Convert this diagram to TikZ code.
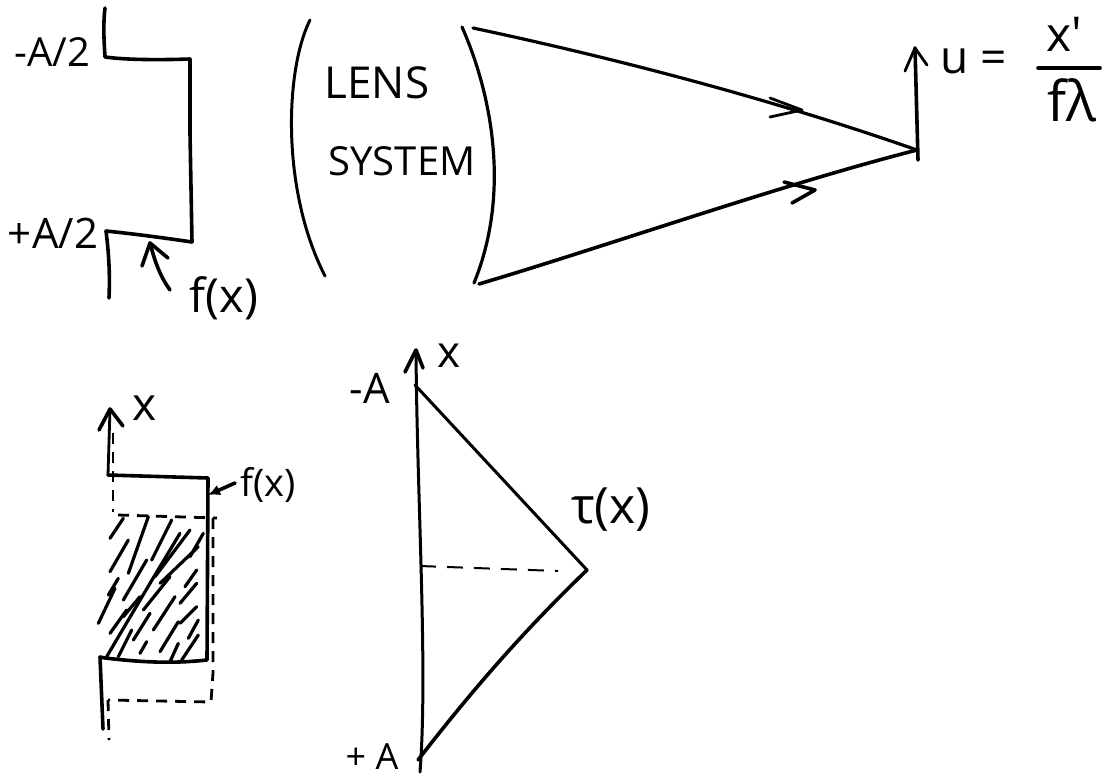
\documentclass[tikz,border=0pt]{standalone}
\usepackage{fontspec}
\setmainfont{Open Sans}
\usetikzlibrary{arrows.meta}
\tikzset{
  ink/.style={line width=3.6pt,line cap=round,line join=round,black},
  thin ink/.style={line width=2.8pt,line cap=round,line join=round,black},
  dash ink/.style={line width=2.8pt,line cap=butt,black,dash pattern=on 11pt off 8pt},
  hatch/.style={line width=3.2pt,line cap=round,black},
  lbl/.style={inner sep=0pt,outer sep=0pt,font=\fontsize{#1}{#1}\selectfont},
}
\begin{document}
\begin{tikzpicture}[x=1pt,y=-1pt]
\useasboundingbox (0,0) rectangle (1113,780);
\fill[white] (0,0) rectangle (1113,780);
% aperture
\draw[ink] (105,8) .. controls (103,25) and (104,40) .. (105,57) .. controls (127,60) and (160,60) .. (190,59) -- (190,133) -- (192,242) .. controls (165,238) and (135,234) .. (106,231) .. controls (109,255) and (110,275) .. (109,298);
\node[lbl=40] (mA2) at (52,52) {-A/2};
\node[lbl=42] (pA2) at (53,233) {+A/2};
\node[lbl=47] (fx1) at (224,298) {f(x)};
\coordinate (fa) at (150,243);
\coordinate (fb) at (170,290);
\draw[ink] (fb) .. controls (160,276) and (155,262) .. (fa);
\draw[ink] (142,266) -- (fa) -- (168,258);
% lens
\coordinate (L1) at (310,20);
\coordinate (L2) at (325,276);
\coordinate (M1) at (462,27);
\coordinate (M2) at (474,283);
\draw[ink,line width=3pt] (L1) .. controls (285,70) and (281,190) .. (L2);
\draw[ink,line width=3.2pt] (M1) .. controls (490,90) and (512,190) .. (M2);
\node[lbl=44] (lens) at (377,83) {LENS};
\node[lbl=40] (sys) at (402,161) {SYSTEM};
% rays
\coordinate (F) at (917,150);
\coordinate (R1) at (473,28);
\coordinate (R2) at (479,284);
\draw[ink,line width=3.2pt] (R1) .. controls (600,55) and (760,95) .. (F);
\draw[ink] (R2) .. controls (610,245) and (780,185) .. (F);
\draw[thin ink] (770,98) -- (802,110) -- (770,117);
\draw[ink] (784,182) -- (815,190) -- (792,203);
% image axis
\coordinate (U0) at (918,160);
\coordinate (U1) at (915,48);
\draw[ink] (U0) -- (U1);
\draw[thin ink] (905,71) -- (U1) -- (927,65);
\node[lbl=46] (u) at (974,61) {u =};
\node[lbl=48] (xp) at (1064,34) {x′};
\coordinate (B1) at (1038,68);
\coordinate (B2) at (1100,68);
\draw[ink] (B1) -- (B2);
\node[lbl=56] (fl) at (1072,100) {fλ};
% left lower figure
\coordinate (xa) at (110,409);
\draw[ink,line width=2.8pt] (108,475) -- (xa);
\draw[ink] (99,430) -- (xa) -- (123,426);
\node[lbl=46] (x1) at (145,408) {x};
\draw[ink] (108,475) -- (208,478) -- (207,660) .. controls (170,664) and (140,662) .. (105,658) -- (100,657) -- (103,729);
\node[lbl=38] (fx2) at (268,485) {f(x)};
\coordinate (fxt) at (235,483);
\coordinate (fxh) at (208,495);
\draw[ink,-{Latex[length=12pt,width=11pt]}] (fxt) -- (fxh);
% dashed
\draw[dash ink] (113,433) -- (113,512);
\draw[dash ink] (118,515) -- (217,518);
\draw[dash ink] (213,518) -- (213,673) -- (211,702) -- (108,700);
\draw[dash ink] (108,700) -- (109,740);
% hatch
\foreach \a/\b/\c/\d in {
190/445/150/505, 205/510/150/605, 265/440/205/610, 335/450/275/570,
360/490/270/640, 390/480/285/620, 260/570/190/690, 175/625/145/675,
430/490/390/560, 415/530/300/640, 410/600/375/650, 410/640/360/700,
345/680/280/780, 270/730/220/810, 240/680/190/740, 165/655/115/760,
270/640/140/860, 215/780/175/860, 410/710/360/760, 355/755/300/845,
260/815/240/850, 415/750/385/805, 415/795/365/870, 355/820/330/875,
330/620/250/720, 200/720/150/790}
{\draw[hatch] ({60+\a/3},{370+\b/3}) -- ({60+\c/3},{370+\d/3});}
% triangle
\coordinate (TA) at (415,385);
\coordinate (TB) at (587,570);
\coordinate (TC) at (418,760);
\coordinate (TT) at (416,350);
\coordinate (TD) at (420,772);
\coordinate (TM) at (420,566);
\coordinate (TN) at (558,571);
\draw[ink,line width=3pt] (TT) .. controls (417,500) and (428,670) .. (TD);
\draw[ink] (405,372) -- (TT) -- (423,368);
\draw[ink,line width=3pt] (TA) -- (TB);
\draw[ink] (TB) .. controls (530,625) and (480,680) .. (TC);
\draw[line width=2pt,black,dash pattern=on 16pt off 11pt] (TM) -- (TN);
\node[lbl=42] (mA) at (370,388) {-A};
\node[lbl=44] (xa2) at (449,356) {x};
\node[lbl=50] (tau) at (611,510) {τ(x)};
\node[lbl=36] (pA) at (372,757) {+ A};
\end{tikzpicture}
\end{document}
